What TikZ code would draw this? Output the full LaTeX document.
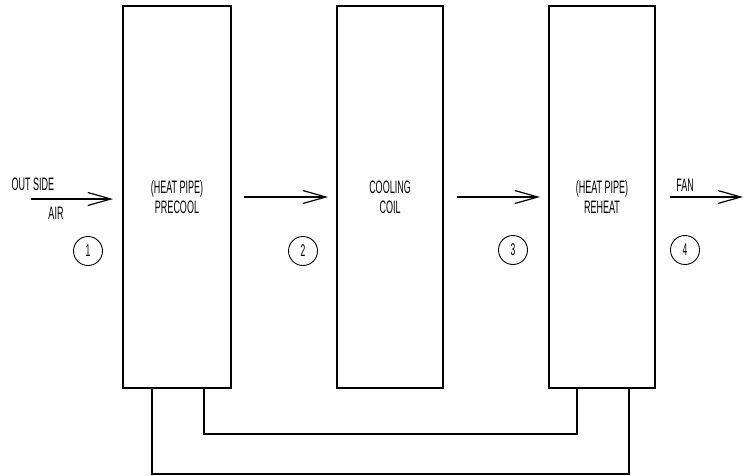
\documentclass[tikz,border=0pt]{standalone}
\usepackage{fontspec}
\setmainfont{Liberation Sans}[FakeStretch=0.5]
\usetikzlibrary{arrows.meta,calc}
\begin{document}
\begin{tikzpicture}[x=1pt,y=-1pt,
  unit/.style={draw,line width=1.4pt,minimum height=382pt,inner sep=0pt,align=center,font=\fontsize{18}{20}\selectfont},
  pipe/.style={line width=1.4pt},
  flow/.style={line width=1.2pt,-{Straight Barb[length=23pt,width=13pt,line width=1.2pt]}},
  lbl/.style={font=\fontsize{18}{18}\selectfont,inner sep=0pt},
  stn/.style={draw,circle,line width=0.9pt,minimum size=29pt,inner sep=0pt,font=\fontsize{17}{17}\selectfont}]
\useasboundingbox (0,0) rectangle (744,475);
\node[unit,minimum width=108pt] (b1) at (177,197) {(HEAT PIPE)\\PRECOOL};
\node[unit,minimum width=106pt] (b2) at (390,197) {COOLING\\COIL};
\node[unit,minimum width=106pt] (b3) at (602,197) {(HEAT PIPE)\\REHEAT};
% pipes
\coordinate (p1o) at (152,388);
\coordinate (p1i) at (204,388);
\coordinate (p3i) at (577,388);
\coordinate (p3o) at (629,388);
\draw[pipe] (p1i) |- ($(p3i)+(0,46)$) -- (p3i);
\draw[pipe] (p1o) |- ($(p3o)+(0,86)$) -- (p3o);
% flow arrows
\coordinate (a1s) at (31,199);  \coordinate (a1e) at (113,199);
\coordinate (a2s) at (244,197); \coordinate (a2e) at (328,197);
\coordinate (a3s) at (457,197); \coordinate (a3e) at (540,197);
\coordinate (a4s) at (670,197); \coordinate (a4e) at (743,197);
\draw[flow] (a1s) -- (a1e);
\draw[flow] (a2s) -- (a2e);
\draw[flow] (a3s) -- (a3e);
\draw[flow] (a4s) -- (a4e);
% labels
\node[lbl] (outside) at (33,184) {OUT SIDE};
\node[lbl] (air) at (56,213) {AIR};
\node[lbl] (fan) at (685,185) {FAN};
% stations
\node[stn] (s1) at (88,251) {1};
\node[stn] (s2) at (303,251) {2};
\node[stn] (s3) at (513,250) {3};
\node[stn] (s4) at (685,250) {4};
\end{tikzpicture}
\end{document}
